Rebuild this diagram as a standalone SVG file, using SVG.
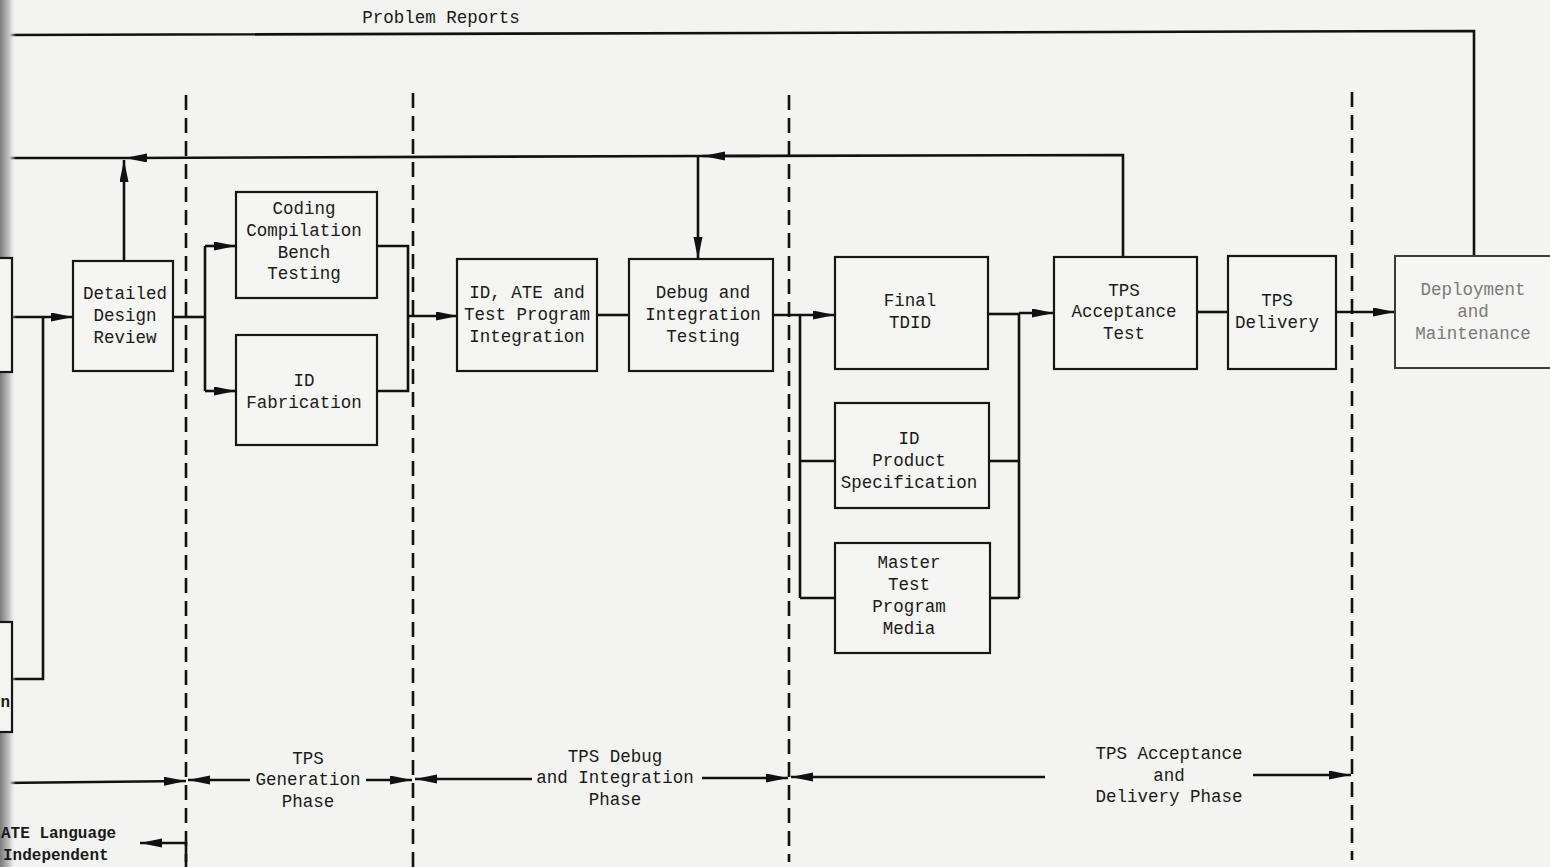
<svg xmlns="http://www.w3.org/2000/svg" width="1550" height="867" viewBox="0 0 1550 867">
<defs>
<linearGradient id="edge" x1="0" y1="0" x2="1" y2="0">
<stop offset="0" stop-color="#7a7a7a"/>
<stop offset="0.6" stop-color="#c8c8c8"/>
<stop offset="1" stop-color="#f3f3f1" stop-opacity="0"/>
</linearGradient>
<marker id="ah" markerUnits="userSpaceOnUse" markerWidth="24" markerHeight="10" refX="22" refY="4.5" orient="auto">
<path d="M0,0 L22,4.5 L0,9 z" fill="#111"/>
</marker>
</defs>
<style>
.bg{fill:#f3f3f1}
.box{fill:#f5f5f3;stroke:#161616;stroke-width:2.2}
.gbox{fill:#f5f5f3;stroke:#3a3a3a;stroke-width:2}
.t{font-family:"Liberation Mono","DejaVu Sans Mono",monospace;font-size:17.5px;fill:#1a1a1a;text-anchor:middle}
.g{fill:#7a7a7a}
.tl{font-family:"Liberation Mono","DejaVu Sans Mono",monospace;font-size:16px;font-weight:bold;fill:#1a1a1a}
.ln{fill:none;stroke:#111;stroke-width:2.6}
.ar{fill:none;stroke:#111;stroke-width:2.6;marker-end:url(#ah)}
.dash{fill:none;stroke:#111;stroke-width:2.6;stroke-dasharray:15 8}
</style>
<rect class="bg" x="0" y="0" width="1550" height="867"/>

<g id="phase-dividers">
<line class="dash" x1="186" y1="95" x2="186" y2="867"/>
<line class="dash" x1="413" y1="93" x2="413" y2="867"/>
<line class="dash" x1="789" y1="95" x2="789" y2="862"/>
<line class="dash" x1="1352" y1="92" x2="1352" y2="860"/>
</g>

<g id="connectors">
<polyline class="ln" points="8,35 1474,31 1474,256"/>
<polyline class="ln" points="1123,257 1123,155 703,156"/>
<line class="ar" x1="760" y1="156" x2="703" y2="156"/>
<line class="ar" x1="703" y1="156" x2="125" y2="158"/>
<line class="ln" x1="125" y1="158" x2="8" y2="158"/>
<line class="ar" x1="698" y1="156" x2="698" y2="259"/>
<line class="ar" x1="124" y1="260" x2="124" y2="160"/>
<line class="ar" x1="12" y1="317" x2="73" y2="317"/>
<polyline class="ln" points="43,317 43,679 12,679"/>
<line class="ln" x1="173" y1="317" x2="205" y2="317"/>
<line class="ln" x1="205" y1="246" x2="205" y2="391"/>
<line class="ar" x1="205" y1="246" x2="236" y2="246"/>
<line class="ar" x1="205" y1="391" x2="236" y2="391"/>
<polyline class="ln" points="377,246 408,246 408,391 377,391"/>
<line class="ar" x1="408" y1="316" x2="458" y2="316"/>
<line class="ln" x1="597" y1="315" x2="629" y2="315"/>
<line class="ar" x1="773" y1="315" x2="835" y2="315"/>
<line class="ln" x1="800" y1="315" x2="800" y2="598"/>
<line class="ln" x1="800" y1="461" x2="835" y2="461"/>
<line class="ln" x1="800" y1="598" x2="835" y2="598"/>
<line class="ln" x1="988" y1="314" x2="1019" y2="314"/>
<line class="ln" x1="1019" y1="313" x2="1019" y2="598"/>
<line class="ln" x1="989" y1="461" x2="1019" y2="461"/>
<line class="ln" x1="990" y1="598" x2="1019" y2="598"/>
<line class="ar" x1="1019" y1="313" x2="1054" y2="313"/>
<line class="ln" x1="1197" y1="312" x2="1228" y2="312"/>
<line class="ar" x1="1336" y1="312" x2="1395" y2="312"/>
<line class="ar" x1="0" y1="783" x2="186" y2="781"/>
<line class="ar" x1="250" y1="780" x2="188" y2="780"/>
<line class="ar" x1="366" y1="780" x2="412" y2="780"/>
<line class="ar" x1="532" y1="779" x2="415" y2="779"/>
<line class="ar" x1="702" y1="778" x2="788" y2="778"/>
<line class="ar" x1="1045" y1="777" x2="791" y2="777"/>
<line class="ar" x1="1253" y1="775" x2="1351" y2="775"/>
<polyline class="ar" points="186,862 186,843 140,843"/>
</g>

<rect x="0" y="0" width="16" height="867" fill="url(#edge)"/>

<g id="prev-box-1"><rect class="box" x="-10" y="258" width="22" height="114"/></g>
<g id="prev-box-2"><rect class="box" x="-10" y="622" width="22" height="110"/><text class="tl" x="10" y="707" text-anchor="end">n</text></g>

<g id="detailed-design-review">
<rect class="box" x="73" y="261" width="100" height="110"/>
<text class="t" x="125" y="299">Detailed</text>
<text class="t" x="125" y="321">Design</text>
<text class="t" x="125" y="343">Review</text>
</g>
<g id="coding">
<rect class="box" x="236" y="192" width="141" height="106"/>
<text class="t" x="304" y="214">Coding</text>
<text class="t" x="304" y="236">Compilation</text>
<text class="t" x="304" y="258">Bench</text>
<text class="t" x="304" y="279">Testing</text>
</g>
<g id="id-fabrication">
<rect class="box" x="236" y="335" width="141" height="110"/>
<text class="t" x="304" y="386">ID</text>
<text class="t" x="304" y="408">Fabrication</text>
</g>
<g id="id-ate-integration">
<rect class="box" x="457" y="259" width="140" height="112"/>
<text class="t" x="527" y="298">ID, ATE and</text>
<text class="t" x="527" y="320">Test Program</text>
<text class="t" x="527" y="342">Integration</text>
</g>
<g id="debug-integration">
<rect class="box" x="629" y="259" width="144" height="112"/>
<text class="t" x="703" y="298">Debug and</text>
<text class="t" x="703" y="320">Integration</text>
<text class="t" x="703" y="342">Testing</text>
</g>
<g id="final-tdid">
<rect class="box" x="835" y="257" width="153" height="112"/>
<text class="t" x="910" y="306">Final</text>
<text class="t" x="910" y="328">TDID</text>
</g>
<g id="id-product-spec">
<rect class="box" x="835" y="403" width="154" height="105"/>
<text class="t" x="909" y="444">ID</text>
<text class="t" x="909" y="466">Product</text>
<text class="t" x="909" y="488">Specification</text>
</g>
<g id="master-test">
<rect class="box" x="835" y="543" width="155" height="110"/>
<text class="t" x="909" y="568">Master</text>
<text class="t" x="909" y="590">Test</text>
<text class="t" x="909" y="612">Program</text>
<text class="t" x="909" y="634">Media</text>
</g>
<g id="tps-acceptance-test">
<rect class="box" x="1054" y="257" width="143" height="112"/>
<text class="t" x="1124" y="296">TPS</text>
<text class="t" x="1124" y="317">Acceptance</text>
<text class="t" x="1124" y="339">Test</text>
</g>
<g id="tps-delivery">
<rect class="box" x="1228" y="256" width="108" height="113"/>
<text class="t" x="1277" y="306">TPS</text>
<text class="t" x="1277" y="328">Delivery</text>
</g>
<g id="deployment">
<rect class="gbox" x="1395" y="256" width="160" height="112"/>
<text class="t g" x="1473" y="295">Deployment</text>
<text class="t g" x="1473" y="317">and</text>
<text class="t g" x="1473" y="339">Maintenance</text>
</g>

<g id="labels">
<text class="t" x="441" y="23">Problem Reports</text>
<text class="t" x="308" y="764">TPS</text>
<text class="t" x="308" y="785">Generation</text>
<text class="t" x="308" y="807">Phase</text>
<text class="t" x="615" y="762">TPS Debug</text>
<text class="t" x="615" y="783">and Integration</text>
<text class="t" x="615" y="805">Phase</text>
<text class="t" x="1169" y="759">TPS Acceptance</text>
<text class="t" x="1169" y="781">and</text>
<text class="t" x="1169" y="802">Delivery Phase</text>
<text class="tl" x="1" y="838">ATE Language</text>
<text class="tl" x="3" y="860">Independent</text>
</g>
</svg>
